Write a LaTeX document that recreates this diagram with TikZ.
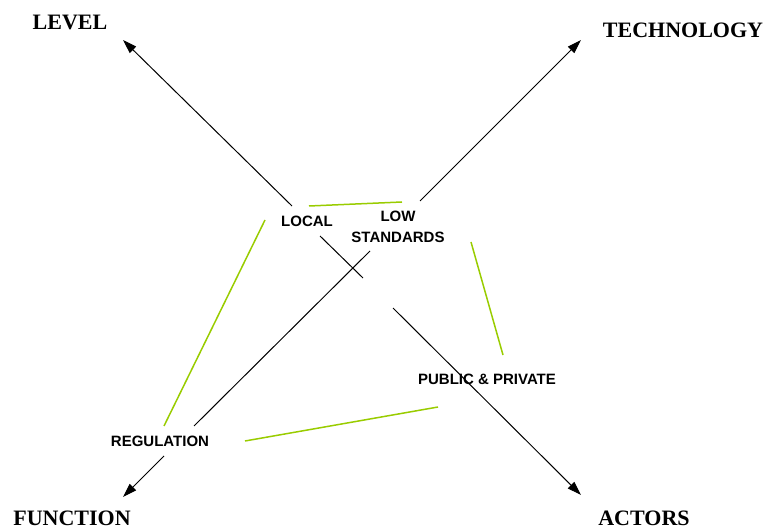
\documentclass[tikz,border=0pt]{standalone}
\usepackage{fontspec}
\setmainfont{Liberation Serif}
\setsansfont{Liberation Sans}
\usetikzlibrary{positioning, arrows.meta}
\definecolor{LinkGreen}{RGB}{153,204,0}
\tikzset{
    axislabel/.style={
        font=\fontsize{22}{26}\selectfont\bfseries, inner sep=0pt
    },
    termlabel/.style={
        font=\sffamily\bfseries\fontsize{15}{21}\selectfont, inner sep=0pt, align=center
    },
    axisline/.style={
        line width=1pt, black
    },
    axisarrow/.style={
        axisline, -{Triangle[length=14pt,width=9pt]}
    },
    link/.style={
        line width=1.5pt, LinkGreen
    }
}

\begin{document}
\begin{tikzpicture}[x=1pt, y=-1pt]
    \useasboundingbox (0,0) rectangle (766,529);
    % axis labels
    \node[axislabel] (level) at (70,22) {LEVEL};
    \node[axislabel] (tech) at (683,30) {TECHNOLOGY};
    \node[axislabel] (func) at (72,518) {FUNCTION};
    \node[axislabel] (actors) at (644,518) {ACTORS};
    % terms
    \node[termlabel] (local) at (307,221) {LOCAL};
    \node[termlabel] (low) at (398,227) {LOW\\STANDARDS};
    \node[termlabel] (pubpriv) at (487,379) {PUBLIC \& PRIVATE};
    \node[termlabel] (regul) at (160,441) {REGULATION};
    % axis ends and breaks
    \coordinate (levelTip) at (123,40);
    \coordinate (actorsTip) at (581,495);
    \coordinate (techTip) at (581,40);
    \coordinate (funcTip) at (123,497);
    \coordinate (a1) at (292,206);
    \coordinate (a2) at (320,236);
    \coordinate (a3) at (363,278);
    \coordinate (a4) at (393,308);
    \coordinate (b1) at (420,201);
    \coordinate (b2) at (370,251);
    \coordinate (b3) at (194,426);
    \coordinate (b4) at (164,456);
    \draw[axisarrow] (a1) -- (levelTip);
    \draw[axisline] (a2) -- (a3);
    \draw[axisarrow] (a4) -- (actorsTip);
    \draw[axisarrow] (b1) -- (techTip);
    \draw[axisline] (b2) -- (b3);
    \draw[axisarrow] (b4) -- (funcTip);
    % links between terms
    \coordinate (g1) at (309,206);
    \coordinate (g2) at (402,202);
    \coordinate (g3) at (265,220);
    \coordinate (g4) at (164,426);
    \coordinate (g5) at (471,242);
    \coordinate (g6) at (503,355);
    \coordinate (g7) at (438,407);
    \coordinate (g8) at (245,441);
    \draw[link] (g1) -- (g2);
    \draw[link] (g3) -- (g4);
    \draw[link] (g5) -- (g6);
    \draw[link] (g7) -- (g8);
\end{tikzpicture}
\end{document}
